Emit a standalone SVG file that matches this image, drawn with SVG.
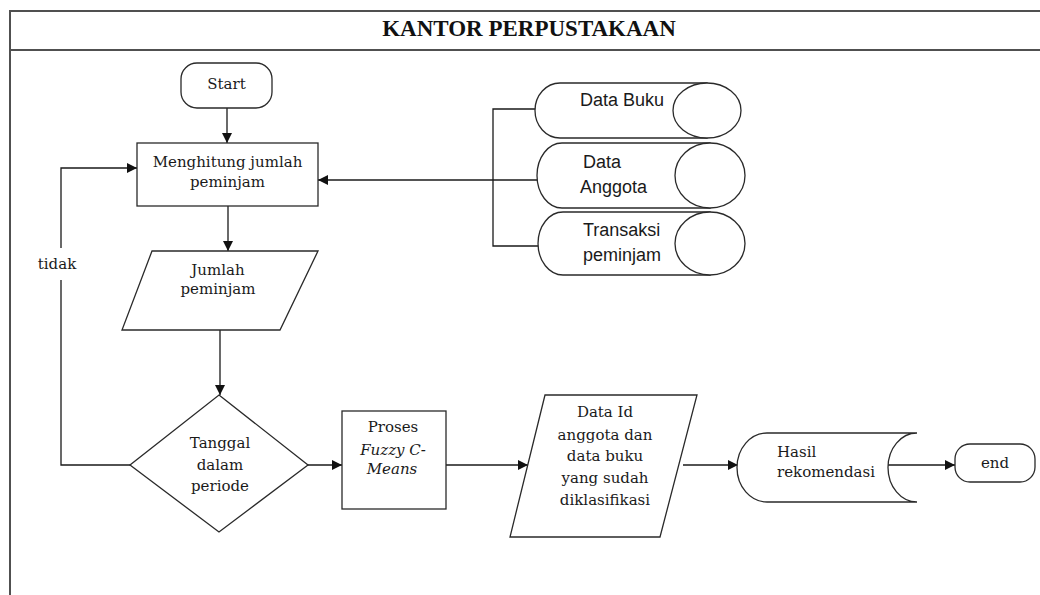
<svg xmlns="http://www.w3.org/2000/svg" width="1040" height="595" viewBox="0 0 1040 595">
  <style>
    .frame { fill: none; stroke: #505050; stroke-width: 2; }
    .shape { fill: #ffffff; stroke: #2a2a2a; stroke-width: 1.3; }
    .line { fill: none; stroke: #1a1a1a; stroke-width: 1.3; }
    .serif { font-family: "DejaVu Serif", "Liberation Serif", serif; font-size: 15px; fill: #1a1a1a; text-anchor: middle; }
    .serif.left { text-anchor: start; }
    .sans { font-family: "Liberation Sans", Arial, sans-serif; font-size: 18px; fill: #1a1a1a; }
    .title { font-family: "Liberation Serif", "Times New Roman", serif; font-size: 23px; font-weight: bold; fill: #111; text-anchor: middle; }
  </style>
  <defs>
    <marker id="arrow" viewBox="0 0 10 10" refX="10" refY="5" markerWidth="10" markerHeight="10" markerUnits="userSpaceOnUse" orient="auto">
      <path d="M0,0 L10,5 L0,10 Z" fill="#111"/>
    </marker>
  </defs>

  <rect width="1040" height="595" fill="#ffffff"/>

  <!-- swimlane frame -->
  <g id="lane">
    <path class="frame" d="M1045,11 H10 V600 M10,50 H1045"/>
    <text class="title" x="529" y="36">KANTOR PERPUSTAKAAN</text>
  </g>

  <!-- connectors -->
  <g id="connectors">
    <line class="line" x1="227" y1="108" x2="227" y2="143" marker-end="url(#arrow)"/>
    <line class="line" x1="228" y1="206" x2="228" y2="251" marker-end="url(#arrow)"/>
    <line class="line" x1="220" y1="330" x2="220" y2="395" marker-end="url(#arrow)"/>
    <line class="line" x1="308" y1="465" x2="342" y2="465" marker-end="url(#arrow)"/>
    <line class="line" x1="446" y1="465" x2="528" y2="465" marker-end="url(#arrow)"/>
    <line class="line" x1="683" y1="465" x2="738" y2="465" marker-end="url(#arrow)"/>
    <line class="line" x1="888" y1="465" x2="955" y2="465" marker-end="url(#arrow)"/>
    <!-- loop back when the date is outside the period -->
    <path class="line" d="M130,465 H61 V280"/>
    <path class="line" d="M61,248 V168 H137" marker-end="url(#arrow)"/>
    <text class="serif" x="57" y="269">tidak</text>
    <!-- data stores feeding the count -->
    <path class="line" d="M536,109 H493 V246 H538"/>
    <line class="line" x1="537" y1="180" x2="318" y2="180" marker-end="url(#arrow)"/>
  </g>

  <g id="start">
    <rect class="shape" x="181" y="63" width="91" height="45" rx="16"/>
    <text class="serif" x="226.5" y="89">Start</text>
  </g>

  <g id="hitung">
    <rect class="shape" x="137" y="143" width="181" height="63"/>
    <text class="serif" x="227.5" y="167">Menghitung jumlah</text>
    <text class="serif" x="227.5" y="187">peminjam</text>
  </g>

  <g id="jumlah">
    <polygon class="shape" points="152,251 318,251 280,330 122,330"/>
    <text class="serif" x="218" y="275">Jumlah</text>
    <text class="serif" x="218" y="294">peminjam</text>
  </g>

  <g id="data-buku">
    <path class="shape" d="M560,83 H707 V138 H560 A25,27.5 0 0 1 560,83 Z"/>
    <ellipse class="shape" cx="707" cy="110.5" rx="34" ry="27.5"/>
    <text class="sans" x="580" y="106">Data Buku</text>
  </g>

  <g id="data-anggota">
    <path class="shape" d="M562,143 H710 V208 H562 A25,32.5 0 0 1 562,143 Z"/>
    <ellipse class="shape" cx="710" cy="175.5" rx="35" ry="32.5"/>
    <text class="sans" x="583" y="168">Data</text>
    <text class="sans" x="580" y="193">Anggota</text>
  </g>

  <g id="transaksi">
    <path class="shape" d="M563,212 H710 V275 H563 A25,31.5 0 0 1 563,212 Z"/>
    <ellipse class="shape" cx="710" cy="243.5" rx="35" ry="31.5"/>
    <text class="sans" x="583" y="236">Transaksi</text>
    <text class="sans" x="583" y="261">peminjam</text>
  </g>

  <g id="periode">
    <polygon class="shape" points="219,395 308,465 219,532 130,465"/>
    <text class="serif" x="220" y="448">Tanggal</text>
    <text class="serif" x="220" y="470">dalam</text>
    <text class="serif" x="220" y="491">periode</text>
  </g>

  <g id="fcm">
    <rect class="shape" x="342" y="411" width="104" height="98"/>
    <text class="serif" x="393" y="432">Proses</text>
    <text class="serif" x="393" y="455" font-style="italic">Fuzzy C-</text>
    <text class="serif" x="392" y="474" font-style="italic">Means</text>
  </g>

  <g id="hasil-klasifikasi">
    <polygon class="shape" points="545,395 697,395 660,537 510,537"/>
    <text class="serif" x="605" y="417">Data Id</text>
    <text class="serif" x="605" y="440">anggota dan</text>
    <text class="serif" x="605" y="461">data buku</text>
    <text class="serif" x="605" y="483">yang sudah</text>
    <text class="serif" x="605" y="505">diklasifikasi</text>
  </g>

  <g id="rekomendasi">
    <path class="shape" d="M767,433 H917 A29,34.5 0 0 0 917,502 H767 A30,34.5 0 0 1 767,433 Z"/>
    <text class="serif left" x="777" y="457">Hasil</text>
    <text class="serif left" x="777" y="477">rekomendasi</text>
  </g>

  <g id="end">
    <rect class="shape" x="955" y="444" width="80" height="38" rx="15"/>
    <text class="serif" x="995" y="468">end</text>
  </g>
</svg>
